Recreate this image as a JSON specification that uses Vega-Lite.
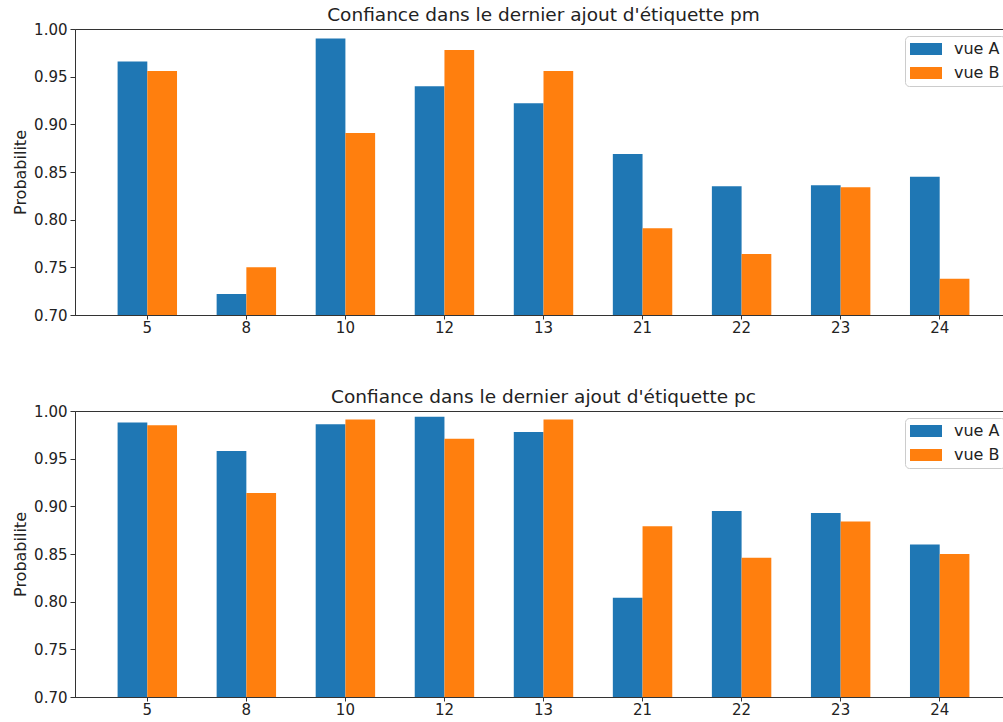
{
  "$schema": "https://vega.github.io/schema/vega-lite/v6.json",
  "padding": {"left": 12, "top": 5, "right": 5, "bottom": 5},
  "background": "white",
  "config": {
    "font": "DejaVu Sans",
    "view": {"stroke": "#333333", "strokeWidth": 1},
    "axis": {
      "labelFont": "DejaVu Sans", "labelFontSize": 15, "labelColor": "#222222",
      "tickColor": "#333333", "domainColor": "#333333", "tickSize": 5, "labelPadding": 3,
      "grid": false, "titleFont": "DejaVu Sans", "titleFontWeight": "normal", "titleFontSize": 16, "titleColor": "#222222"
    },
    "axisX": {"tickSize": 4, "labelPadding": 1},
    "title": {"font": "DejaVu Sans", "fontSize": 18.5, "fontWeight": "normal", "color": "#222222", "offset": -2},
    "legend": {
      "symbolType": "M-1,-0.75H3V0.75H-1Z", "symbolSize": 256, "symbolStrokeWidth": 0, "symbolOpacity": 1,
      "labelFont": "DejaVu Sans", "labelFontSize": 16, "labelColor": "#222222", "labelOffset": 28, "rowPadding": 8,
      "padding": 5, "strokeColor": "#cccccc", "fillColor": "rgba(255,255,255,0.8)", "cornerRadius": 4, "offset": 7
    },
    "concat": {"spacing": 51}
  },
  "data": {"values": [
    {"panel": "pm", "cat": 5, "vue": "vue A", "value": 0.966},
    {"panel": "pm", "cat": 5, "vue": "vue B", "value": 0.956},
    {"panel": "pm", "cat": 8, "vue": "vue A", "value": 0.722},
    {"panel": "pm", "cat": 8, "vue": "vue B", "value": 0.750},
    {"panel": "pm", "cat": 10, "vue": "vue A", "value": 0.990},
    {"panel": "pm", "cat": 10, "vue": "vue B", "value": 0.891},
    {"panel": "pm", "cat": 12, "vue": "vue A", "value": 0.940},
    {"panel": "pm", "cat": 12, "vue": "vue B", "value": 0.978},
    {"panel": "pm", "cat": 13, "vue": "vue A", "value": 0.922},
    {"panel": "pm", "cat": 13, "vue": "vue B", "value": 0.956},
    {"panel": "pm", "cat": 21, "vue": "vue A", "value": 0.869},
    {"panel": "pm", "cat": 21, "vue": "vue B", "value": 0.791},
    {"panel": "pm", "cat": 22, "vue": "vue A", "value": 0.835},
    {"panel": "pm", "cat": 22, "vue": "vue B", "value": 0.764},
    {"panel": "pm", "cat": 23, "vue": "vue A", "value": 0.836},
    {"panel": "pm", "cat": 23, "vue": "vue B", "value": 0.834},
    {"panel": "pm", "cat": 24, "vue": "vue A", "value": 0.845},
    {"panel": "pm", "cat": 24, "vue": "vue B", "value": 0.738},
    {"panel": "pc", "cat": 5, "vue": "vue A", "value": 0.988},
    {"panel": "pc", "cat": 5, "vue": "vue B", "value": 0.985},
    {"panel": "pc", "cat": 8, "vue": "vue A", "value": 0.958},
    {"panel": "pc", "cat": 8, "vue": "vue B", "value": 0.914},
    {"panel": "pc", "cat": 10, "vue": "vue A", "value": 0.986},
    {"panel": "pc", "cat": 10, "vue": "vue B", "value": 0.991},
    {"panel": "pc", "cat": 12, "vue": "vue A", "value": 0.994},
    {"panel": "pc", "cat": 12, "vue": "vue B", "value": 0.971},
    {"panel": "pc", "cat": 13, "vue": "vue A", "value": 0.978},
    {"panel": "pc", "cat": 13, "vue": "vue B", "value": 0.991},
    {"panel": "pc", "cat": 21, "vue": "vue A", "value": 0.804},
    {"panel": "pc", "cat": 21, "vue": "vue B", "value": 0.879},
    {"panel": "pc", "cat": 22, "vue": "vue A", "value": 0.895},
    {"panel": "pc", "cat": 22, "vue": "vue B", "value": 0.846},
    {"panel": "pc", "cat": 23, "vue": "vue A", "value": 0.893},
    {"panel": "pc", "cat": 23, "vue": "vue B", "value": 0.884},
    {"panel": "pc", "cat": 24, "vue": "vue A", "value": 0.860},
    {"panel": "pc", "cat": 24, "vue": "vue B", "value": 0.850}
  ]},
  "vconcat": [
    {
      "title": "Confiance dans le dernier ajout d'étiquette pm",
      "width": 937, "height": 286,
      "transform": [{"filter": "datum.panel === 'pm'"}],
      "mark": {"type": "bar", "clip": true},
      "encoding": {
        "x": {"field": "cat", "type": "ordinal", "scale": {"paddingInner": 0.4, "paddingOuter": 0.43}, "axis": {"title": null, "labelAngle": 0}},
        "xOffset": {"field": "vue", "type": "nominal", "scale": {"paddingInner": 0, "paddingOuter": 0}},
        "y": {"field": "value", "type": "quantitative", "scale": {"domain": [0.7, 1.0], "zero": false, "nice": false},
              "axis": {"title": "Probabilite", "values": [0.7, 0.75, 0.8, 0.85, 0.9, 0.95, 1.0], "format": ".2f", "titlePadding": 5}},
        "color": {"field": "vue", "type": "nominal", "scale": {"domain": ["vue A", "vue B"], "range": ["#1f77b4", "#ff7f0e"]},
                  "legend": {"title": null, "orient": "top-right"}}
      }
    },
    {
      "title": "Confiance dans le dernier ajout d'étiquette pc",
      "width": 937, "height": 286,
      "transform": [{"filter": "datum.panel === 'pc'"}],
      "mark": {"type": "bar", "clip": true},
      "encoding": {
        "x": {"field": "cat", "type": "ordinal", "scale": {"paddingInner": 0.4, "paddingOuter": 0.43}, "axis": {"title": null, "labelAngle": 0}},
        "xOffset": {"field": "vue", "type": "nominal", "scale": {"paddingInner": 0, "paddingOuter": 0}},
        "y": {"field": "value", "type": "quantitative", "scale": {"domain": [0.7, 1.0], "zero": false, "nice": false},
              "axis": {"title": "Probabilite", "values": [0.7, 0.75, 0.8, 0.85, 0.9, 0.95, 1.0], "format": ".2f", "titlePadding": 5}},
        "color": {"field": "vue", "type": "nominal", "scale": {"domain": ["vue A", "vue B"], "range": ["#1f77b4", "#ff7f0e"]},
                  "legend": {"title": null, "orient": "top-right"}}
      }
    }
  ],
  "resolve": {"legend": {"color": "independent"}, "scale": {"color": "independent"}}
}
